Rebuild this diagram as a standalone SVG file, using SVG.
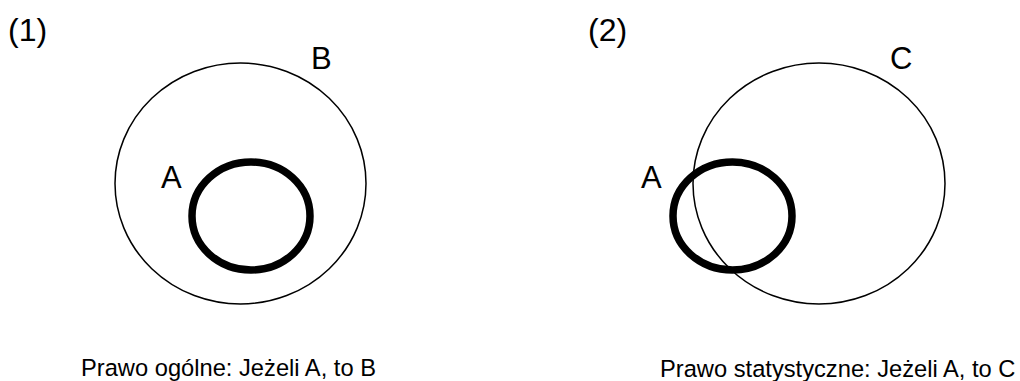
<svg xmlns="http://www.w3.org/2000/svg" width="1020" height="381" viewBox="0 0 1020 381">
<style>
text{font-family:"Liberation Sans",Arial,sans-serif;fill:#000}
.num{font-size:32px}
.lbl{font-size:31px}
.cap{font-size:23.7px}
.thin{fill:none;stroke:#000;stroke-width:1.5}
.thick{fill:none;stroke:#000;stroke-width:7.5}
</style>
<rect width="1020" height="381" fill="#fff"/>
<g id="panel1">
<text class="num" x="8" y="41">(1)</text>
<g id="nodeB"><ellipse class="thin" cx="240.5" cy="183.5" rx="125.5" ry="120.5"/><text class="lbl" x="311" y="69">B</text></g>
<g id="nodeA1"><ellipse class="thick" cx="251" cy="216" rx="59" ry="54"/><text class="lbl" x="161" y="188">A</text></g>
<text class="cap" x="81" y="376">Prawo ogólne: Jeżeli A, to B</text>
</g>
<g id="panel2">
<text class="num" x="588" y="41">(2)</text>
<g id="nodeC"><ellipse class="thin" cx="819" cy="183.5" rx="126" ry="120.5"/><text class="lbl" x="890" y="69">C</text></g>
<g id="nodeA2"><ellipse class="thick" cx="732.5" cy="216" rx="59.5" ry="54"/><text class="lbl" x="641" y="188">A</text></g>
<text class="cap" x="660" y="377">Prawo statystyczne: Jeżeli A, to C</text>
</g>
<g id="connectors"/>
</svg>
